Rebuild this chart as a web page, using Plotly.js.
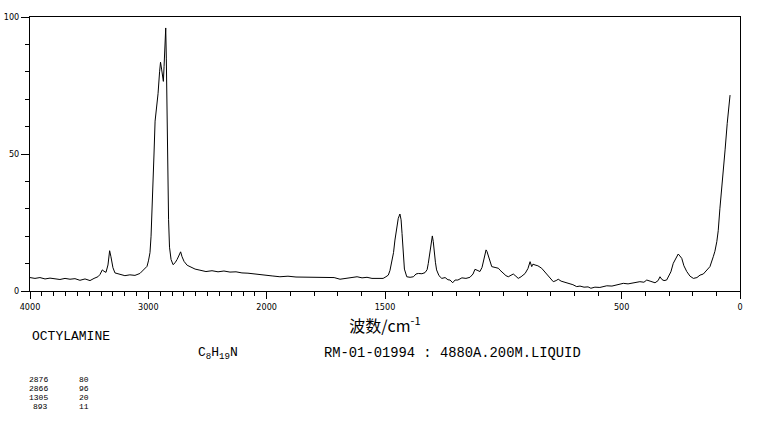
<!DOCTYPE html>
<html>
<head>
<meta charset="utf-8">
<script src="https://cdn.plot.ly/plotly-3.0.1.min.js"></script>
<style>html,body{margin:0;padding:0;background:#fff;}#chart{width:765px;height:425px;}</style>
</head>
<body>
<div id="chart"></div>
<script>
// Raman spectrum of octylamine (wavenumber, cm-1 ; relative intensity)
const wavenumber = [
4000,3958,3916,3873,3831,3789,3747,3704,3662,3620,3578,3535,3493,3459,3426,3409,3389,3375,3358,3341,
3327,3316,3299,3282,3240,3198,3156,3113,3071,3045,3028,3011,2999,2986,2977,2969,2960,2952,2943,2935,
2926,2918,2905,2897,2888,2880,2873,2867,2859,2853,2848,2842,2836,2829,2821,2808,2791,2774,2757,2740,
2727,2715,2698,2672,2647,2605,2564,2513,2462,2411,2361,2310,2259,2209,2158,2107,2057,2000,
1977,1944,1910,1876,1842,1808,1775,1741,1715,1690,1665,1639,1618,1597,1576,1555,1530,1508,1496,1486,
1479,1472,1464,1458,1451,1444,1437,1432,1428,1423,1418,1408,1394,1380,1369,1359,1344,1331,1322,1317,
1312,1307,1300,1296,1293,1287,1282,1272,1260,1246,1234,1225,1214,1204,1192,1175,1158,1141,1128,1120,
1111,1099,1090,1085,1073,1069,1064,1056,1049,1035,1021,1014,1000,989,979,968,958,947,937,925,
908,896,887,880,875,866,854,838,828,817,803,789,777,768,756,747,732,718,706,690,
676,659,642,630,613,592,563,541,520,493,473,448,423,406,394,380,359,346,338,330,
321,310,303,292,282,270,261,254,246,237,225,211,197,182,169,155,141,127,113,106,
98,92,85,77,71,63,54,42
];
const intensity = [
4.9,4.6,4.9,4.4,4.7,4.5,4.2,4.6,4.3,4.5,3.9,4.4,3.8,4.6,5.2,6.0,7.7,7.2,6.8,9.5,
14.7,12.5,8.5,6.6,6.0,5.6,5.9,5.7,6.4,7.5,8.0,9.0,11,14,20,28,38,50,62,65,
68,72,80,83.5,81,78,76.5,82,92,96,85,62,40,26,16,11.5,9.6,10.3,11.5,13,
14.3,12.5,10.8,9.4,8.9,8.0,7.6,7.1,7.4,7.0,7.3,6.9,7.0,6.6,6.5,6.2,6.0,5.7,
5.5,5.2,5.4,5.1,5.0,4.9,5.0,4.8,4.9,4.3,4.6,4.8,5.2,4.8,5.0,4.6,4.7,4.6,5.2,5.8,
7.5,10.1,14,18.6,23,26.5,28.1,26,21,12.5,8,5.2,5.0,5.2,6.2,6.4,6.3,6.7,7.8,10.1,
13.5,17.4,20.1,18,15,10.5,7.7,5.6,4.6,4.9,4.1,4.0,3.0,4.0,4.0,4.8,4.6,5.0,6.2,7.9,
7.6,7.1,8.6,10.7,15,14.4,13.1,10.6,8.9,8.6,8.3,7.6,6.4,5.6,5.2,5.7,6.2,5.4,4.6,5.2,
6.4,8.2,10.7,8.9,9.8,9.5,9.2,8.3,7.3,5.8,4.6,3.4,3.8,4.3,3.6,3.4,2.8,2.5,2.3,1.6,
1.8,1.4,1.5,1.0,1.4,1.3,1.9,1.8,2.3,2.8,2.6,3.0,3.4,3.2,4.0,3.6,3.0,3.8,5.2,4.2,
3.8,4.0,5.2,7.0,10.1,12.4,13.5,12.8,11.9,9.2,7.1,5.4,4.6,4.9,5.8,6.2,7.7,8.9,12.5,14.5,
18,22,30,36.9,44,51.5,61.2,71.5
];
const xTickLabels = [4000, 3000, 2000, 1500, 500, 0];
const yTickLabels = [0, 50, 100];
const peakWavenumbers = ["2876", "2866", "1305", "893"];
const peakIntensities = ["80", "96", "20", "11"];
const compoundName = "OCTYLAMINE";
const formula = "C<sub>8</sub>H<sub>19</sub>N";
const recordInfo = "RM-01-01994 : 4880A.200M.LIQUID";

// Spectrometer chart scale: above 2000 cm-1 the axis is compressed by half
function axisPos(w) { return w <= 2000 ? w : 2000 + (w - 2000) / 2; }

const minorVals = [];
for (let w = 100; w < 4000; w += 100) {
  if (xTickLabels.indexOf(w) === -1) minorVals.push(axisPos(w));
}

const tickFont = {family: "Liberation Sans Narrow, DejaVu Sans Condensed, sans-serif", size: 9, color: "#000"};
const mono = "Liberation Mono, DejaVu Sans Mono, monospace";

const trace = {
  x: wavenumber.map(axisPos),
  y: intensity,
  type: "scatter",
  mode: "lines",
  line: {color: "#000", width: 1},
  hoverinfo: "skip"
};

const annotations = [
  {text: compoundName, x: 30, y: 336, size: 13},
  {text: formula, x: 196, y: 353, size: 13},
  {text: recordInfo, x: 322, y: 353, size: 13.8}
].map(a => ({
  text: a.text, xref: "paper", yref: "paper", showarrow: false,
  xanchor: "left", yanchor: "middle",
  font: {family: mono, size: a.size, color: "#000"},
  _px: a.x, _py: a.y
}));

peakWavenumbers.forEach((w, i) => {
  annotations.push({text: w, _px: 50, _py: 379 + i * 9, xanchor: "right", yanchor: "middle",
    showarrow: false, xref: "paper", yref: "paper", font: {family: mono, size: 8, color: "#000"}});
  annotations.push({text: peakIntensities[i], _px: 77, _py: 379 + i * 9, xanchor: "left", yanchor: "middle",
    showarrow: false, xref: "paper", yref: "paper", font: {family: mono, size: 8, color: "#000"}});
});

const M = {l: 30, r: 25, t: 17, b: 134};
const W = 765, H = 425, PW = W - M.l - M.r, PH = H - M.t - M.b;
annotations.forEach(a => {
  a.x = (a._px - M.l) / PW;
  a.y = (H - M.b - a._py) / PH;
  delete a._px; delete a._py;
});

const layout = {
  width: W, height: H,
  margin: M,
  paper_bgcolor: "#fff", plot_bgcolor: "#fff",
  showlegend: false,
  xaxis: {
    range: [axisPos(4000), axisPos(0)],
    tickmode: "array",
    tickvals: xTickLabels.map(axisPos),
    ticktext: xTickLabels.map(String),
    ticks: "outside", ticklen: 7, tickwidth: 1, tickcolor: "#000",
    minor: {tickmode: "array", tickvals: minorVals, ticks: "outside", ticklen: 4, tickwidth: 1, tickcolor: "#000"},
    showgrid: false, zeroline: false,
    showline: true, linecolor: "#000", linewidth: 1, mirror: true,
    tickfont: tickFont,
    title: {text: "波数/cm<sup>-1</sup>", font: {family: "Noto Sans CJK SC, sans-serif", size: 16, color: "#000"}, standoff: 0},
    automargin: false, fixedrange: true
  },
  yaxis: {
    range: [0, 100],
    tickmode: "array",
    tickvals: yTickLabels,
    ticktext: yTickLabels.map(String),
    ticks: "outside", ticklen: 8, tickwidth: 1, tickcolor: "#000",
    minor: {dtick: 10, ticks: "outside", ticklen: 4, tickwidth: 1, tickcolor: "#000"},
    showgrid: false, zeroline: false,
    showline: true, linecolor: "#000", linewidth: 1, mirror: true,
    tickfont: tickFont,
    automargin: false, fixedrange: true
  },
  annotations: annotations
};

Plotly.newPlot("chart", [trace], layout, {staticPlot: true, displayModeBar: false});
</script>
</body>
</html>
